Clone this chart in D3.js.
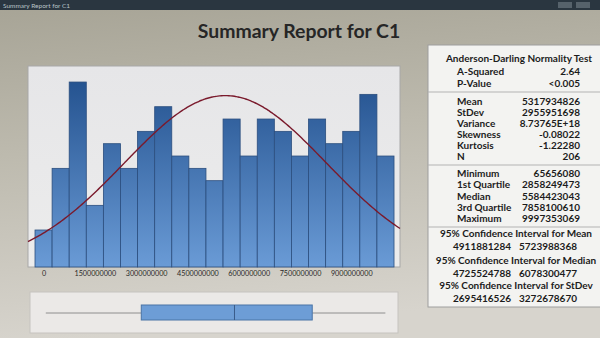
<!DOCTYPE html>
<html><head><meta charset="utf-8">
<script src="https://cdn.jsdelivr.net/npm/d3@7"></script>
<style>html,body{margin:0;padding:0;background:#bdbab0;}svg{display:block;}</style>
</head><body>
<svg id="c" width="600" height="338"></svg>
<script>
// ---- data ----
const binCenters = [0, 500000000, 1000000000, 1500000000, 2000000000, 2500000000, 3000000000,
  3500000000, 4000000000, 4500000000, 5000000000, 5500000000, 6000000000, 6500000000,
  7000000000, 7500000000, 8000000000, 8500000000, 9000000000, 9500000000, 10000000000];
const counts = [3, 8, 15, 5, 10, 8, 11, 13, 9, 8, 7, 12, 9, 12, 11, 9, 12, 10, 11, 14, 9];
const binWidth = 500000000;
const tickValues = [0, 1500000000, 3000000000, 4500000000, 6000000000, 7500000000, 9000000000];
const fitMean = 5317934826;
const fitStDev = 2955951698;
const sampleN = 206;
const boxStats = [65656080, 2858249473, 5584423043, 7858100610, 9997353069]; // min,q1,median,q3,max
const adLabels = ["A-Squared", "P-Value"];
const adValues = ["2.64", "<0.005"];
const momentLabels = ["Mean", "StDev", "Variance", "Skewness", "Kurtosis", "N"];
const momentValues = ["5317934826", "2955951698", "8.73765E+18", "-0.08022", "-1.22280", "206"];
const quantLabels = ["Minimum", "1st Quartile", "Median", "3rd Quartile", "Maximum"];
const quantValues = ["65656080", "2858249473", "5584423043", "7858100610", "9997353069"];
const ciTitles = ["95% Confidence Interval for Mean", "95% Confidence Interval for Median", "95% Confidence Interval for StDev"];
const ciLower = ["4911881284", "4725524788", "2695416526"];
const ciUpper = ["5723988368", "6078300477", "3272678670"];

// ---- drawing ----
const svg = d3.select("#c");
const defs = svg.append("defs");
const bg = defs.append("linearGradient").attr("id","bg").attr("x1",0).attr("y1",0).attr("x2",0.15).attr("y2",1);
bg.append("stop").attr("offset","0%").attr("stop-color","#a6a395");
bg.append("stop").attr("offset","45%").attr("stop-color","#bdbaae");
bg.append("stop").attr("offset","100%").attr("stop-color","#d7d4cd");
const barG = defs.append("linearGradient").attr("id","barg").attr("gradientUnits","userSpaceOnUse")
  .attr("x1",0).attr("y1",66).attr("x2",0).attr("y2",267);
barG.append("stop").attr("offset","0%").attr("stop-color","#1f4d8a");
barG.append("stop").attr("offset","100%").attr("stop-color","#6a9bd6");
const panelG = defs.append("linearGradient").attr("id","pg").attr("x1",0).attr("y1",0).attr("x2",0).attr("y2",1);
panelG.append("stop").attr("offset","0%").attr("stop-color","#e6e6e8");
panelG.append("stop").attr("offset","100%").attr("stop-color","#ececec");

svg.append("rect").attr("width",600).attr("height",338).attr("fill","url(#bg)");
// window title bar
svg.append("rect").attr("width",600).attr("height",10).attr("fill","#2a3640");
svg.append("text").attr("x",3).attr("y",7.5).attr("font-family","Lato").attr("font-size",6.5)
  .attr("fill","#b8c2c8").text("Summary Report for C1");
svg.append("rect").attr("x",558).attr("y",2).attr("width",14).attr("height",6).attr("fill","#56626b");
svg.append("rect").attr("x",576).attr("y",2).attr("width",14).attr("height",6).attr("fill","#56626b");

// title
svg.append("text").attr("x",299).attr("y",38).attr("text-anchor","middle")
  .attr("font-family","Lato").attr("font-weight","bold").attr("font-size",19.4)
  .attr("fill","#262626").text("Summary Report for C1");

// histogram panel
const L = 28, R = 400, T = 66, B = 267;
svg.append("rect").attr("x",L).attr("y",T).attr("width",R-L).attr("height",B-T)
  .attr("fill","url(#pg)").attr("stroke","#a8a8a8").attr("stroke-width",1);

const x = d3.scaleLinear().domain([-455000000, 10425000000]).range([L, R]);
const y = d3.scaleLinear().domain([0, 16.3]).range([B, T]);

svg.append("g").selectAll("rect").data(counts).join("rect")
  .attr("x",(d,i)=>x(binCenters[i]-binWidth/2))
  .attr("width",(d,i)=>x(binCenters[i]+binWidth/2)-x(binCenters[i]-binWidth/2))
  .attr("y",d=>y(d)).attr("height",d=>y(0)-y(d))
  .attr("fill","url(#barg)").attr("stroke","#2b4e7e").attr("stroke-width",0.8);

// fitted normal curve
const scaleF = sampleN*binWidth/(fitStDev*Math.sqrt(2*Math.PI));
const xs = d3.range(x.domain()[0], x.domain()[1]+1, (x.domain()[1]-x.domain()[0])/200);
const line = d3.line().x(v=>x(v)).y(v=>y(scaleF*Math.exp(-0.5*Math.pow((v-fitMean)/fitStDev,2)))).curve(d3.curveBasis);
svg.append("path").attr("d",line(xs)).attr("fill","none").attr("stroke","#7a1a2c").attr("stroke-width",1.4);

// axis
const ax = svg.append("g").attr("transform",`translate(0,${B})`)
  .call(d3.axisBottom(x).tickValues(tickValues).tickSize(0).tickPadding(4).tickFormat(d3.format("d")));
ax.select(".domain").remove();
ax.selectAll("text").attr("font-family","Lato").attr("font-size",7.2).attr("fill","#2a2a2a");

// boxplot panel
svg.append("rect").attr("x",30).attr("y",292).attr("width",368).attr("height",41)
  .attr("fill","#ebe9e7").attr("stroke","#c6c3bf");
const [mn,q1,md,q3,mx] = boxStats;
const by = 313;
svg.append("line").attr("x1",x(mn)).attr("x2",x(q1)).attr("y1",by).attr("y2",by).attr("stroke","#8e8e8e");
svg.append("line").attr("x1",x(q3)).attr("x2",x(mx)).attr("y1",by).attr("y2",by).attr("stroke","#8e8e8e");
svg.append("rect").attr("x",x(q1)).attr("y",305).attr("width",x(q3)-x(q1)).attr("height",15)
  .attr("fill","#6d9dd6").attr("stroke","#4a74a6");
svg.append("line").attr("x1",x(md)).attr("x2",x(md)).attr("y1",305).attr("y2",320).attr("stroke","#3a5c8a");

// stats panel
const sp = svg.append("g");
sp.append("rect").attr("x",428).attr("y",45).attr("width",176).attr("height",262)
  .attr("fill","#f3f3f1").attr("stroke","#9e9e9e");
[92,165,227].forEach(yy=>sp.append("line").attr("x1",428).attr("x2",604).attr("y1",yy).attr("y2",yy).attr("stroke","#b3b3b3"));
const tf = s=>s.attr("font-family","Lato").attr("font-weight","bold").attr("font-size",10).attr("fill","#1c1c1c");
tf(sp.append("text").attr("x",519).attr("y",61.5).attr("text-anchor","middle").text("Anderson-Darling Normality Test"));
function rows(labels, values, ys){
  labels.forEach((l,i)=>{
    tf(sp.append("text").attr("x",457).attr("y",ys[i]).text(l));
    tf(sp.append("text").attr("x",580).attr("y",ys[i]).attr("text-anchor","end").text(values[i]));
  });
}
rows(adLabels, adValues, [75, 86.5]);
rows(momentLabels, momentValues, [104.5,115.5,126.5,137.5,149,160]);
rows(quantLabels, quantValues, [177,188,199.5,211,221.5]);
const ciY = [236.5, 263.5, 288.5];
ciTitles.forEach((t,i)=>{
  tf(sp.append("text").attr("x",516).attr("y",ciY[i]).attr("text-anchor","middle").text(t));
  tf(sp.append("text").attr("x",482).attr("y",ciY[i]+13).attr("text-anchor","middle").text(ciLower[i]));
  tf(sp.append("text").attr("x",548).attr("y",ciY[i]+13).attr("text-anchor","middle").text(ciUpper[i]));
});
</script>
</body></html>
